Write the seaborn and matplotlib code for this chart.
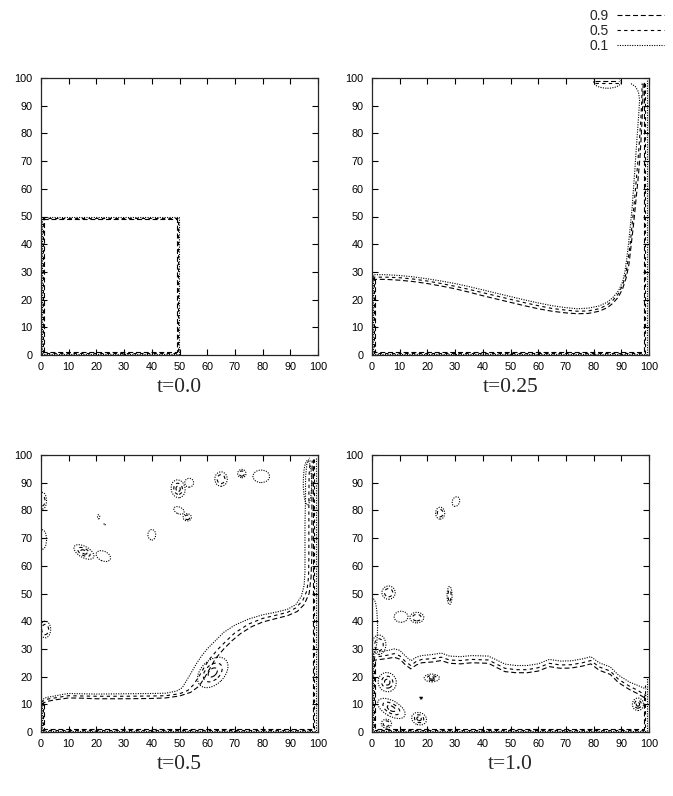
import matplotlib
matplotlib.use("Agg")
import matplotlib.pyplot as plt
from matplotlib.patches import Ellipse
from matplotlib.lines import Line2D
import seaborn as sns

# contour levels and the line style used for each
levels = [0.9, 0.5, 0.1]
level_dash = {0.9: (0, (4.5, 2.5)), 0.5: (0, (3.0, 3.0)), 0.1: (0, (1.0, 1.2))}
titles = ["t=0.0", "t=0.25", "t=0.5", "t=1.0"]
ticks = [0, 10, 20, 30, 40, 50, 60, 70, 80, 90, 100]

# ---- t=0.0 : square of fluid in the corner (one outline per level)
p1_x09 = [1.1, 1.1, 49.0, 49.0, 1.1]
p1_y09 = [1.1, 49.0, 49.0, 1.1, 1.1]
p1_x05 = [0.75, 0.75, 49.5, 49.5, 0.75]
p1_y05 = [0.75, 49.5, 49.5, 0.75, 0.75]
p1_x01 = [0.4, 0.4, 49.9, 49.9, 0.4]
p1_y01 = [0.4, 49.9, 49.9, 0.4, 0.4]

# ---- t=0.25
p2_x09 = [0, 5, 10, 15, 20, 25, 30, 35, 40, 45, 50, 55, 60, 65, 70, 74, 78, 82, 85, 87, 89,
          90.5, 91.8, 92.8, 93.6, 94.4, 95.2, 96.0, 96.7, 97.2, 97.6, 97.8, 97.9]
p2_y09 = [27.3, 27.3, 27.0, 26.5, 25.8, 24.9, 23.9, 22.7, 21.4, 20.2, 19.0, 17.8, 16.7, 15.8, 15.2,
          14.9, 15.0, 15.8, 17.1, 18.7, 21, 24, 28, 33, 40, 47, 55, 63, 71, 79, 87, 93, 98]
p2_x05 = [0, 5, 10, 15, 20, 25, 30, 35, 40, 45, 50, 55, 60, 65, 70, 74, 78, 82, 85, 87, 89,
          90.5, 91.6, 92.4, 93.2, 93.9, 94.6, 95.3, 96.0, 96.6, 97.1, 97.4, 97.5]
p2_y05 = [28.1, 28.1, 27.9, 27.4, 26.7, 25.8, 24.8, 23.7, 22.5, 21.3, 20.1, 18.9, 17.8, 16.8, 16.2,
          15.8, 15.9, 16.7, 18.1, 19.8, 22.2, 25.3, 29, 34, 40, 47, 54, 62, 70, 78, 86, 92, 98]
p2_x01 = [0, 5, 10, 15, 20, 25, 30, 35, 40, 45, 50, 55, 60, 65, 70, 74, 78, 82, 85, 87, 89,
          90.5, 91.3, 92, 92.7, 93.3, 93.9, 94.4, 94.9, 95.3, 95.8, 96.3, 96.6, 96.2, 95, 93.7, 93.5]
p2_y01 = [29.0, 29.0, 28.7, 28.2, 27.5, 26.7, 25.8, 24.7, 23.5, 22.3, 21.1, 19.9, 18.8, 17.8, 17.1,
          16.7, 16.9, 17.7, 19.1, 20.8, 23.2, 26.5, 30, 35, 41, 47, 53, 60, 67, 73, 80, 87, 92, 95,
          97, 97.8, 98.5]
p2_wall_x = {0.9: [1.1, 1.1, 98.3, 98.3], 0.5: [0.75, 0.75, 98.7, 98.7], 0.1: [0.4, 0.4, 99.1, 99.1]}
p2_wall_y = {0.9: [27.3, 1.1, 1.1, 98.5], 0.5: [28.1, 0.75, 0.75, 98.8], 0.1: [29.0, 0.4, 0.4, 99.2]}
p2_top_x = [80.5, 89.0]
p2_top_y = {0.9: [98.8, 98.8], 0.5: [98.2, 98.2]}

# ---- t=0.5
p3_x09 = [0, 2, 5, 8, 10, 15, 20, 30, 40, 45, 50, 54, 57, 59, 61, 63, 66, 69, 72, 76, 80, 85,
          89, 92.5, 95, 96.8, 97.5, 97.8, 97.8, 97.8, 97.9]
p3_y09 = [10, 11, 11.6, 12, 12.3, 12.2, 12, 12, 12.1, 12.3, 13, 14.3, 16.5, 19.5, 23, 26.5, 30,
          33, 35.5, 38, 39.7, 41, 42, 43.5, 46, 50, 56, 65, 80, 90, 98]
p3_x05 = [0, 2, 5, 8, 10, 15, 20, 30, 40, 45, 50, 53, 55, 57, 59, 61, 64, 67, 70, 75, 80, 85,
          89, 92, 94.5, 96, 96.6, 96.7, 96.7, 96.7, 96.8, 97.2]
p3_y05 = [10.8, 11.8, 12.3, 12.8, 13.1, 13, 12.9, 12.9, 13, 13.1, 13.8, 15, 17, 20, 23.5, 26.5,
          30, 33, 35.8, 39, 41, 42.2, 43.2, 44.8, 47.5, 51, 56, 63, 75, 85, 93, 98]
p3_x01 = [0, 2, 5, 8, 10, 15, 20, 30, 40, 45, 49, 51, 52.5, 54, 56, 58, 60, 63, 66, 70, 75, 80,
          85, 89, 92, 94, 95, 95.3, 95.3, 95.3, 95.5, 95.5, 96, 97]
p3_y01 = [11.5, 12.5, 13, 13.6, 13.9, 13.8, 13.7, 13.8, 13.9, 14, 14.8, 16, 18.5, 21, 24.5, 27.5,
          30, 33, 36, 38.6, 40.8, 42.3, 43.3, 44.3, 46, 49, 53, 58, 65, 75, 85, 92, 97, 99]
p3_wall_x = {0.9: [1.1, 1.1, 98.3, 98.3], 0.5: [0.75, 0.75, 98.7, 98.7], 0.1: [0.4, 0.4, 99.1, 99.1]}
p3_wall_y = {0.9: [10.0, 1.1, 1.1, 98.5], 0.5: [10.8, 0.75, 0.75, 98.8], 0.1: [11.5, 0.4, 0.4, 99.2]}

# droplets: centre, width, height, angle, number of nested levels
p3_blob_x = [0.5, 0.5, 1.5, 20.8, 23, 15.5, 22.5, 40, 49.5, 53.5, 49.8, 52.8, 65, 72.5, 79.5, 62, 96.2]
p3_blob_y = [83.5, 69.5, 37, 77.7, 75, 65, 63.5, 71.2, 87.8, 90, 80, 77.5, 91.3, 93.3, 92.3, 21.5, 90]
p3_blob_w = [3, 3, 4, 0.8, 0.5, 8, 5.5, 2.8, 5, 3.2, 4, 3, 4.5, 3, 6, 13, 3]
p3_blob_h = [6, 7, 6, 1.5, 0.5, 4, 3.5, 3.8, 6.5, 3.2, 2.4, 2.6, 5.2, 3, 4.5, 8.5, 16]
p3_blob_a = [0, 0, 0, 0, 0, -30, -25, 0, 10, 0, -25, 0, 0, 0, 0, 45, 0]
p3_blob_n = [2, 1, 2, 1, 1, 3, 1, 1, 3, 1, 1, 2, 2, 2, 1, 3, 1]

# ---- t=1.0
p4_x = [0, 3, 6, 8, 10, 12, 14, 16, 18, 22, 25, 28, 32, 36, 42, 45, 48, 52, 56, 60, 64, 68, 72,
        76, 79, 82, 86, 89, 93, 96, 99]
p4_y09 = [25.8, 26.2, 26.6, 27, 26.3, 24.3, 22.8, 24.2, 25, 25.3, 25.8, 24.8, 24.6, 25, 24.8, 23.3,
          21.8, 21.4, 21.4, 22, 23.6, 23, 23.1, 23.8, 24.6, 22.3, 20.8, 17.8, 15.3, 13.8, 12]
p4_y05 = [27, 27.3, 27.8, 28.3, 27.5, 25.5, 24, 25.5, 26.2, 26.5, 27, 26, 25.8, 26.2, 26, 24.5,
          23, 22.5, 22.5, 23.2, 24.8, 24.2, 24.3, 25, 25.8, 23.5, 22, 19, 16.5, 15, 13]
p4_y01 = [28.7, 29, 29.5, 30, 29.5, 27.5, 25.7, 27, 27.6, 28, 28.5, 27.4, 27.2, 27.6, 27.4, 26,
          24.5, 24, 24, 24.6, 26.2, 25.6, 25.7, 26.4, 27.2, 25, 23.5, 20.5, 18, 16.8, 15.5]
p4_wall_x = {0.9: [1.1, 1.1, 98.3, 98.3], 0.5: [0.75, 0.75, 98.7, 98.7], 0.1: [0.4, 0.4, 99.1, 99.1]}
p4_wall_y = {0.9: [25.8, 1.1, 1.1, 14], 0.5: [27.0, 0.75, 0.75, 17], 0.1: [28.7, 0.4, 0.4, 20]}
p4_blob_x = [6, 28, 10.5, 16.2, 24.6, 30.3, 21.6, 5.5, 17.7, 7, 17, 5.2, 96, 2.5, 0.5]
p4_blob_y = [50.3, 49.3, 41.6, 41.3, 79, 83.2, 19.5, 18, 12.3, 8.5, 4.8, 3, 10, 31.5, 38]
p4_blob_w = [4.8, 1.8, 5, 5, 3.3, 2.6, 5.5, 6.5, 1.2, 11, 5.5, 3.7, 4, 5, 3]
p4_blob_h = [4.8, 6.5, 4, 3.8, 4.3, 3.6, 2.8, 7, 0.7, 5.5, 4.4, 3.2, 4.5, 7, 20]
p4_blob_a = [0, 0, 0, 0, 0, -20, 0, 20, 0, -30, -20, 0, 0, 0, 0]
p4_blob_n = [2, 2, 1, 2, 2, 1, 3, 3, 3, 3, 3, 2, 3, 2, 1]

p2_blob_x = [85]
p2_blob_y = [98.6]
p2_blob_w = [10]
p2_blob_h = [4.6]
p2_blob_a = [0]
p2_blob_n = [1]

sns.set_style("ticks")
plt.rcParams["font.family"] = ["Liberation Sans", "DejaVu Sans"]

fig = plt.figure(figsize=(6.73, 7.96), dpi=100)
ax_w, ax_h = 277 / 673, 277 / 796
lefts = [41 / 673, 372 / 673, 41 / 673, 372 / 673]
bottoms = [1 - 355 / 796, 1 - 355 / 796, 1 - 732 / 796, 1 - 732 / 796]
axes = [fig.add_axes([l, b, ax_w, ax_h]) for l, b in zip(lefts, bottoms)]
LW = 0.8


def curve(ax, xs, ys, lev):
    sns.lineplot(x=xs, y=ys, sort=False, estimator=None, ax=ax, color="black",
                 lw=LW, linestyle=level_dash[lev])


def blobs(ax, bx, by, bw, bh, ba, bn):
    scale = [1.0, 0.62, 0.3]
    for x, y, w, h, a, n in zip(bx, by, bw, bh, ba, bn):
        for k, lev in enumerate([0.1, 0.5, 0.9][:n]):
            ax.add_patch(Ellipse((x, y), w * scale[k], h * scale[k], angle=a, fill=False,
                                 edgecolor="black", lw=LW, linestyle=level_dash[lev]))


# t=0.0
for lev, xs, ys in [(0.9, p1_x09, p1_y09), (0.5, p1_x05, p1_y05), (0.1, p1_x01, p1_y01)]:
    curve(axes[0], xs, ys, lev)

# t=0.25
for lev, xs, ys in [(0.9, p2_x09, p2_y09), (0.5, p2_x05, p2_y05), (0.1, p2_x01, p2_y01)]:
    curve(axes[1], xs, ys, lev)
for lev in levels:
    curve(axes[1], p2_wall_x[lev], p2_wall_y[lev], lev)
for lev in [0.9, 0.5]:
    curve(axes[1], p2_top_x, p2_top_y[lev], lev)
blobs(axes[1], p2_blob_x, p2_blob_y, p2_blob_w, p2_blob_h, p2_blob_a, p2_blob_n)

# t=0.5
for lev, xs, ys in [(0.9, p3_x09, p3_y09), (0.5, p3_x05, p3_y05), (0.1, p3_x01, p3_y01)]:
    curve(axes[2], xs, ys, lev)
for lev in levels:
    curve(axes[2], p3_wall_x[lev], p3_wall_y[lev], lev)
blobs(axes[2], p3_blob_x, p3_blob_y, p3_blob_w, p3_blob_h, p3_blob_a, p3_blob_n)

# t=1.0
for lev, ys in [(0.9, p4_y09), (0.5, p4_y05), (0.1, p4_y01)]:
    curve(axes[3], p4_x, ys, lev)
for lev in levels:
    curve(axes[3], p4_wall_x[lev], p4_wall_y[lev], lev)
blobs(axes[3], p4_blob_x, p4_blob_y, p4_blob_w, p4_blob_h, p4_blob_a, p4_blob_n)

for ax, title in zip(axes, titles):
    ax.set_xlim(0, 100)
    ax.set_ylim(0, 100)
    ax.set_xticks(ticks)
    ax.set_yticks(ticks)
    ax.tick_params(direction="in", top=True, right=True, length=4, width=0.8,
                   labelsize=7.8, colors="black")
    ax.tick_params(axis="y", pad=6)
    ax.tick_params(axis="x", pad=5)
    for s in ax.spines.values():
        s.set_linewidth(0.9)
        s.set_visible(True)
    pos = ax.get_position()
    fig.text(pos.x0 + pos.width / 2, pos.y0 - 0.041, title, ha="center", va="center",
             fontsize=15.5, family=["Liberation Serif", "DejaVu Serif"])

handles = [Line2D([], [], color="black", lw=LW, linestyle=level_dash[lev]) for lev in levels]
fig.legend(handles, [str(l) for l in levels], loc="upper right", markerfirst=False,
           frameon=False, fontsize=10, handlelength=3.4, handletextpad=0.6,
           labelspacing=0.08, bbox_to_anchor=(670 / 673, 1 - 3 / 796), borderaxespad=0)

fig.savefig("out.png", dpi=100)
